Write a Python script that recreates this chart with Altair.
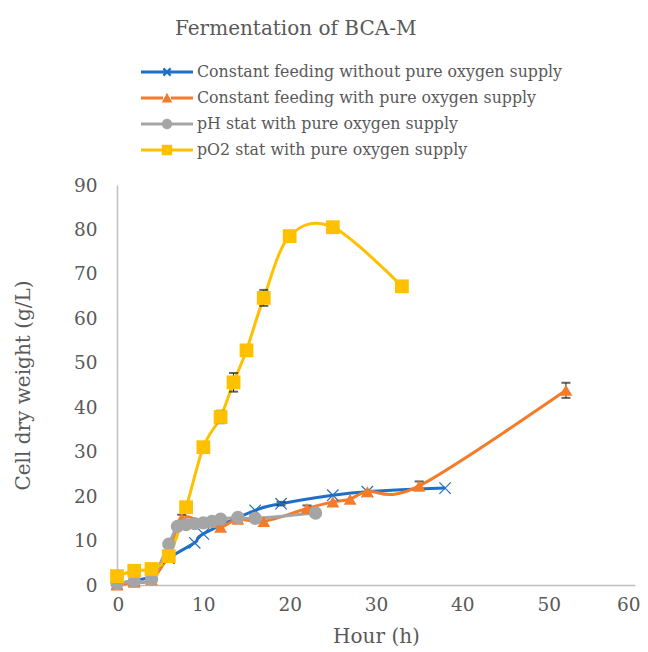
import math
import altair as alt
import pandas as pd

series = [
    "Constant feeding without pure oxygen supply",
    "Constant feeding with pure oxygen supply",
    "pH stat with pure oxygen supply",
    "pO2 stat with pure oxygen supply",
]
colors = ["#1F6FC6", "#F47B2A", "#A5A5A5", "#FFC000"]

blue_hour = [0, 2, 4, 6, 9, 10, 16, 19, 25, 29, 38]
blue_cdw = [0.3, 1.0, 2.0, 6.0, 9.5, 11.5, 16.8, 18.3, 20.2, 21.0, 21.8]

orange_hour = [0, 2, 4, 6, 7.5, 10, 12, 14, 17, 22, 25, 27, 29, 35, 52]
orange_cdw = [0.0, 0.6, 1.2, 7.0, 15.0, 14.0, 13.0, 14.8, 14.3, 17.2, 18.7, 19.3, 21.0, 22.3, 43.8]

gray_hour = [0, 2, 4, 6, 7, 8, 9, 10, 11, 12, 14, 16, 23]
gray_cdw = [0.3, 0.9, 1.3, 9.2, 13.2, 13.6, 13.8, 14.0, 14.3, 14.8, 15.2, 15.0, 16.2]

yellow_hour = [0, 2, 4, 6, 8, 10, 12, 13.5, 15, 17, 20, 25, 33]
yellow_cdw = [2.0, 3.2, 3.6, 6.5, 17.5, 31.0, 37.8, 45.6, 52.8, 64.6, 78.5, 80.5, 67.2]

err_series = [series[3], series[3], series[3], series[1], series[1], series[1], series[1], series[0]]
err_hour = [12, 13.5, 17, 7.5, 22, 35, 52, 19]
err_cdw = [37.8, 45.6, 64.6, 15.0, 17.2, 22.3, 43.8, 18.3]
err_sd = [1.4, 2.1, 1.8, 0.8, 0.7, 1.0, 1.7, 0.4]

rows = []
for name, xs, ys in zip(series, [blue_hour, orange_hour, gray_hour, yellow_hour],
                        [blue_cdw, orange_cdw, gray_cdw, yellow_cdw]):
    for x, y in zip(xs, ys):
        rows.append({"series": name, "hour": x, "cdw": y})
df = pd.DataFrame(rows)

edf = pd.DataFrame({"series": err_series, "hour": err_hour, "cdw": err_cdw, "sd": err_sd})
edf["lo"] = edf["cdw"] - edf["sd"]
edf["hi"] = edf["cdw"] + edf["sd"]


def xpath(a, d):
    b1 = f"M{-a},{-a+d}L{-a+d},{-a}L{a},{a-d}L{a-d},{a}Z"
    b2 = f"M{-a+d},{a}L{-a},{a-d}L{a-d},{-a}L{a},{-a+d}Z"
    return b1 + b2


def seg(x0, x1, t):
    return f"M{x0},{-t}L{x1},{-t}L{x1},{t}L{x0},{t}Z"


def poly_circle(r, n=20):
    pts = [(r * math.cos(2 * math.pi * k / n), r * math.sin(2 * math.pi * k / n)) for k in range(n)]
    return "M" + "L".join(f"{x:.3f},{y:.3f}" for x, y in pts) + "Z"


marker_shapes = [xpath(1, 0.14), "triangle-up", "circle", "square"]
marker_sizes = [150, 190, 160, 256]

# legend symbols: nominal box 26px (unit = 13px); line spans -2..2 units (52px)
L, T, m, g = 2.0, 0.12, 0.4, 0.3
legend_shapes = [
    seg(-L, L, T) + xpath(0.34, 0.12),
    seg(-L, -g, T) + seg(g, L, T) + "M0,-0.4L0.4,0.34L-0.4,0.34Z",
    seg(-L, -g, T) + seg(g, L, T) + poly_circle(m),
    seg(-L, -g, T) + seg(g, L, T) + f"M-{m},-{m}L{m},-{m}L{m},{m}L-{m},{m}Z",
]

FONT = "DejaVu Serif"
TXT = "#595959"

x_scale = alt.Scale(domain=[0, 60], nice=False)
y_scale = alt.Scale(domain=[0, 90], nice=False)
color_scale = alt.Scale(domain=series, range=colors)

X = alt.X("hour:Q", scale=x_scale,
          axis=alt.Axis(title="Hour (h)", values=[0, 10, 20, 30, 40, 50, 60], grid=False, ticks=False,
                        labelFlush=True, labelFlushOffset=5,
                        domainColor="#BFBFBF", domainWidth=1.5, labelFont=FONT,
                        labelFontSize=18.5, labelColor=TXT, labelPadding=10, titleFont=FONT,
                        titleFontSize=20, titleFontWeight="normal", titleColor=TXT, titlePadding=13))
Y = alt.Y("cdw:Q", scale=y_scale,
          axis=alt.Axis(title="Cell dry weight (g/L)", values=list(range(0, 100, 10)), grid=False,
                        ticks=False, labelFlush=False, domainColor="#BFBFBF", domainWidth=1.5,
                        labelFont=FONT, labelFontSize=18.5, labelColor=TXT, labelPadding=20,
                        titleFont=FONT, titleFontSize=20, titleFontWeight="normal", titleColor=TXT,
                        titlePadding=40))

lines = alt.Chart(df).mark_line(strokeWidth=3, interpolate="cardinal").encode(
    x=X, y=Y,
    color=alt.Color("series:N", scale=color_scale, legend=None),
    detail="series:N",
    order="hour:Q",
)

err_rule = alt.Chart(edf).mark_rule(color="#222222", strokeWidth=1).encode(
    x=alt.X("hour:Q", scale=x_scale), y=alt.Y("lo:Q", scale=y_scale), y2="hi:Q")
err_lo = alt.Chart(edf).mark_tick(color="#222222", orient="horizontal", size=9, thickness=2).encode(
    x=alt.X("hour:Q", scale=x_scale), y=alt.Y("lo:Q", scale=y_scale))
err_hi = alt.Chart(edf).mark_tick(color="#222222", orient="horizontal", size=9, thickness=2).encode(
    x=alt.X("hour:Q", scale=x_scale), y=alt.Y("hi:Q", scale=y_scale))

points = alt.Chart(df).mark_point(filled=True, opacity=1).encode(
    x=alt.X("hour:Q", scale=x_scale), y=alt.Y("cdw:Q", scale=y_scale),
    color=alt.Color("series:N", scale=color_scale, legend=None),
    shape=alt.Shape("series:N", scale=alt.Scale(domain=series, range=marker_shapes), legend=None),
    size=alt.Size("series:N", scale=alt.Scale(domain=series, range=marker_sizes), legend=None),
)

legend_layer = alt.Chart(df).transform_filter("false").mark_point(filled=True, opacity=1).encode(
    x=alt.X("hour:Q", scale=x_scale), y=alt.Y("cdw:Q", scale=y_scale),
    color=alt.Color("series:N", scale=color_scale,
                    legend=alt.Legend(title=None, orient="none", legendX=37, legendY=-126,
                                      direction="vertical", padding=0, offset=0,
                                      symbolSize=676, symbolStrokeWidth=0, labelOffset=17,
                                      labelFont=FONT, labelFontSize=15.8, labelColor=TXT,
                                      labelLimit=500, rowPadding=5)),
    shape=alt.Shape("series:N", scale=alt.Scale(domain=series, range=legend_shapes)),
)

chart = alt.layer(lines, err_rule, err_lo, err_hi, points, legend_layer).resolve_scale(
    color="independent", shape="independent", size="independent"
).properties(
    width=518, height=400,
    padding={"left": 109, "top": 177, "right": 5, "bottom": 66},
    autosize=alt.AutoSizeParams(type="none"),
    title=alt.TitleParams("Fermentation of BCA-M", anchor="start", frame="group", dx=58, font=FONT,
                          fontSize=20, fontWeight="normal", color=TXT, offset=20),
).configure_view(stroke=None)

chart.save("out.html", embed_options={"renderer": "svg", "actions": False})
